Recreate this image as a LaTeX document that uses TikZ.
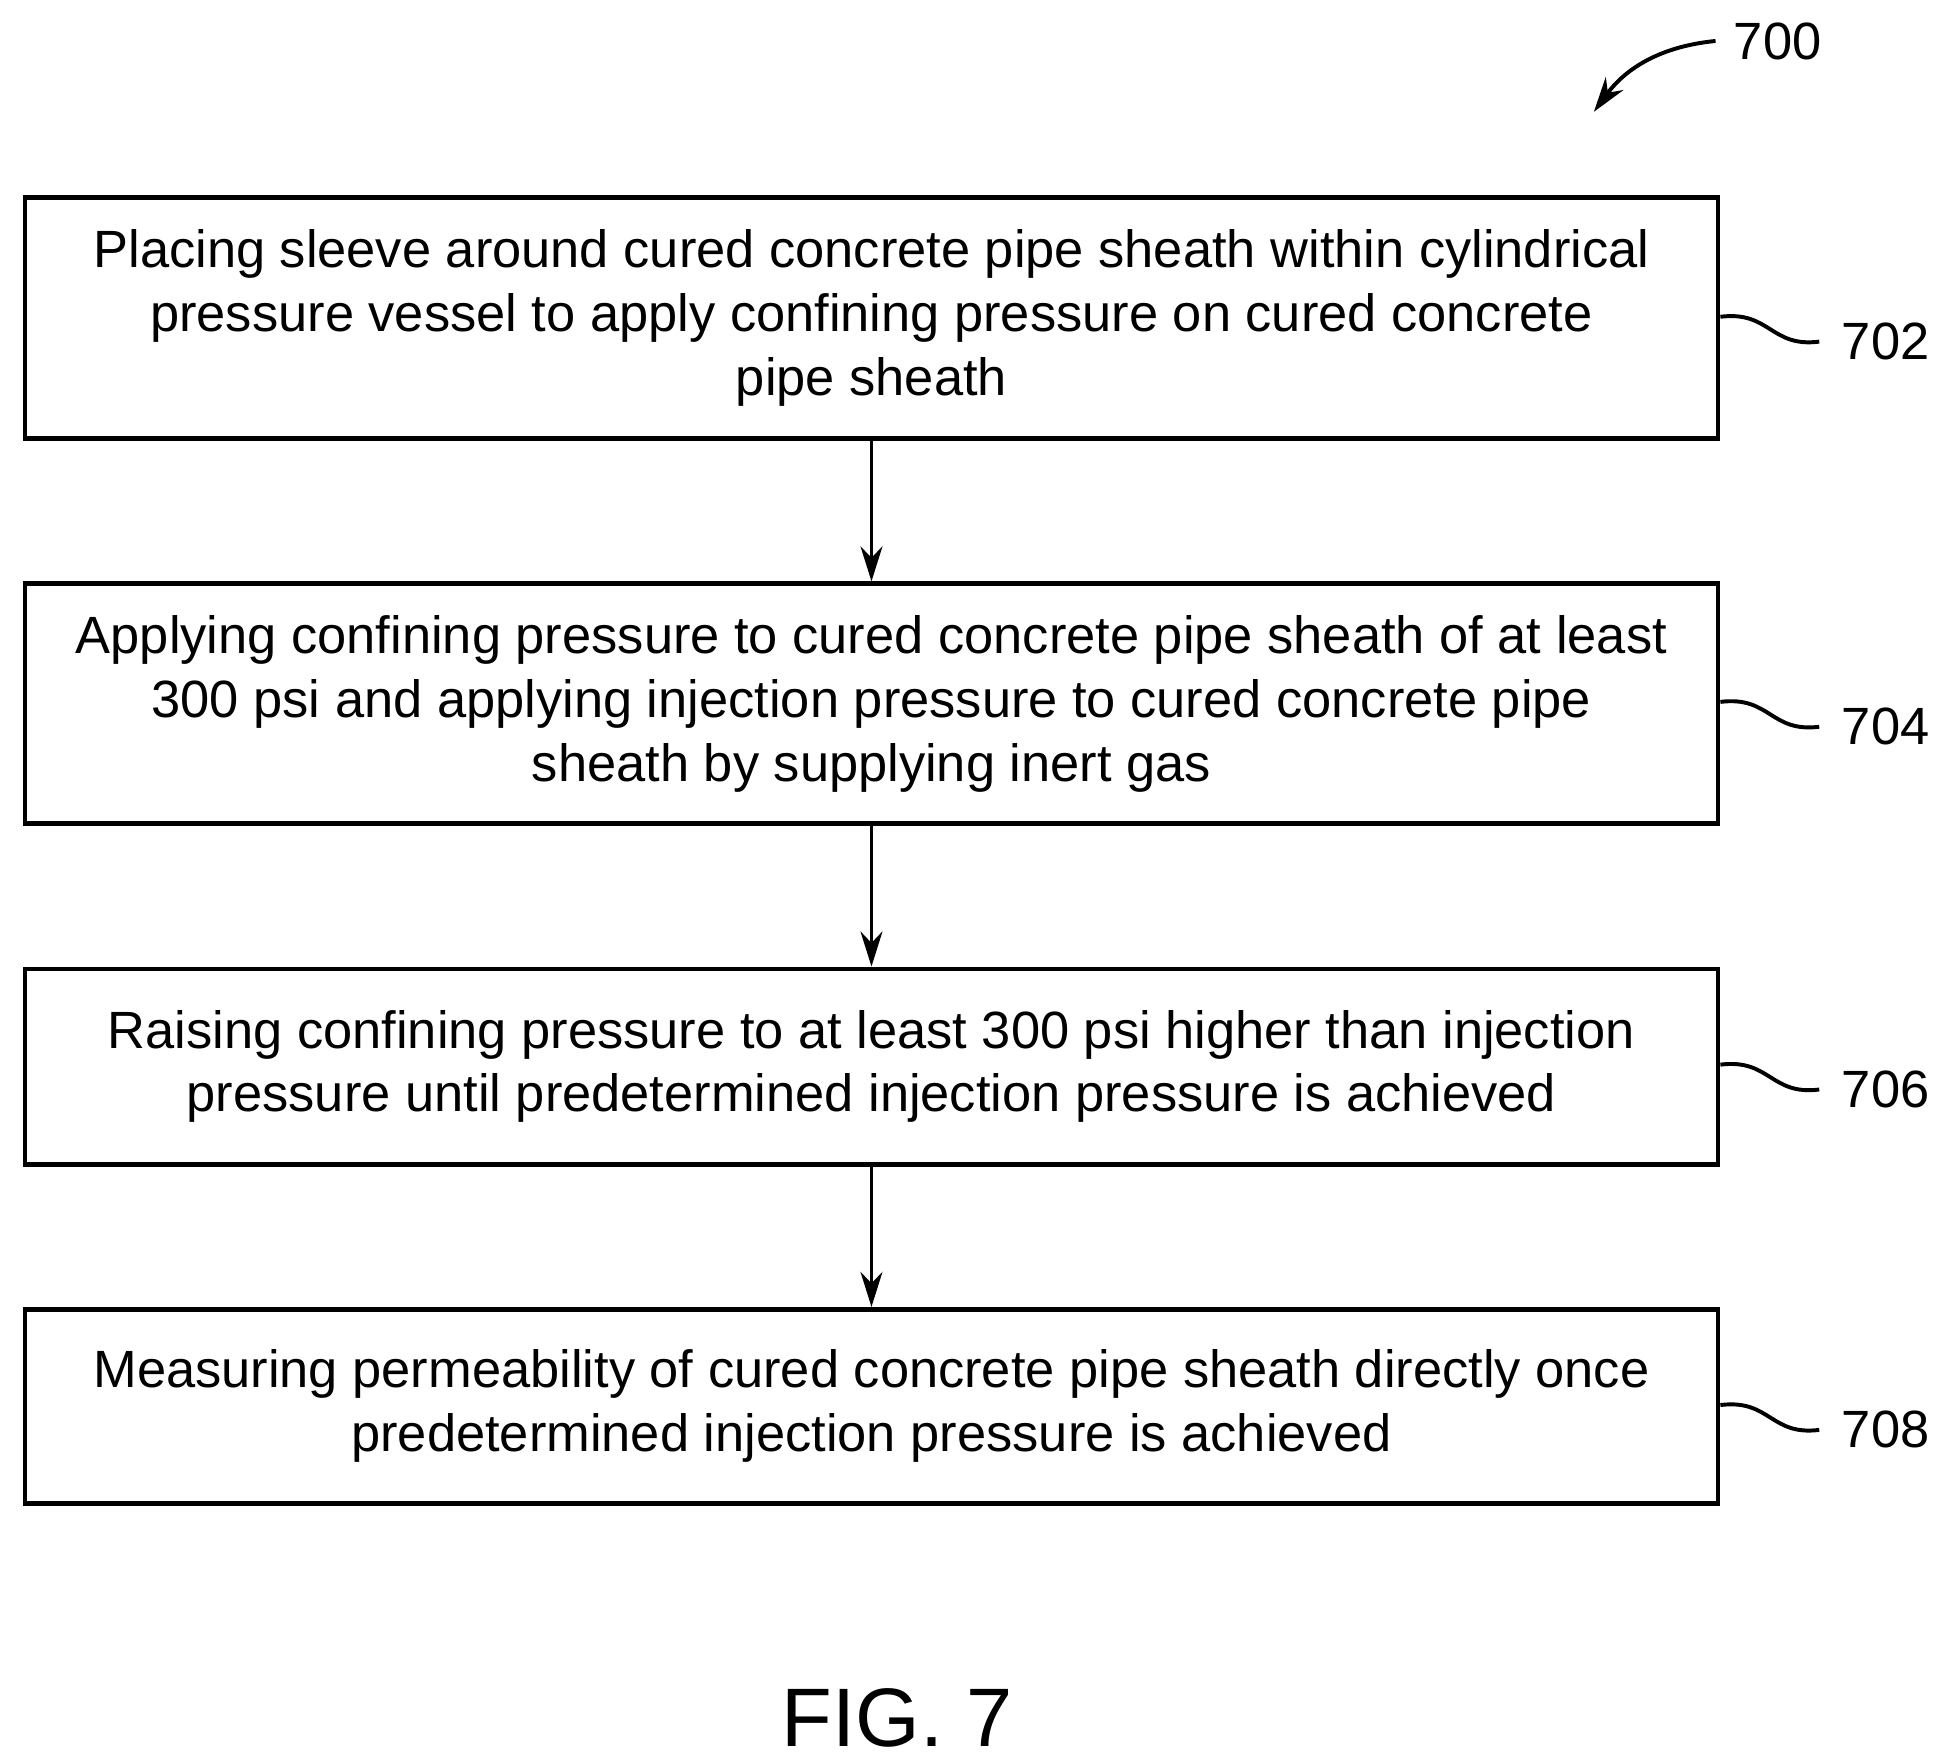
\documentclass[tikz,border=0pt]{standalone}
\usepackage{fontspec}
\setmainfont{Liberation Sans}
\usetikzlibrary{arrows.meta}
\begin{document}
\begin{tikzpicture}[x=0.01cm,y=-0.01cm,
 box/.style={draw,line width=1.1pt,align=center,font=\fontsize{12}{14.6}\selectfont},
 arr/.style={-{Stealth[length=8pt,width=5pt]},line width=0.9pt},
 lab/.style={font=\fontsize{12}{14.6}\selectfont},
 sq/.style={line width=0.9pt}]
\useasboundingbox (0,0) rectangle (1560,1416);
\tikzset{every node/.append style={inner sep=0pt}}
\node[box,minimum width=13.62cm,minimum height=1.94cm] (b1) at (701.5,256) {Placing sleeve around cured concrete pipe sheath within cylindrical\\pressure vessel to apply confining pressure on cured concrete\\pipe sheath};
\node[box,minimum width=13.62cm,minimum height=1.93cm] (b2) at (701.5,566.5) {Applying confining pressure to cured concrete pipe sheath of at least\\300 psi and applying injection pressure to cured concrete pipe\\sheath by supplying inert gas};
\node[box,minimum width=13.62cm,minimum height=1.57cm] (b3) at (701.5,858.5) {Raising confining pressure to at least 300 psi higher than injection\\pressure until predetermined injection pressure is achieved};
\node[box,minimum width=13.62cm,minimum height=1.56cm] (b4) at (701.5,1132) {Measuring permeability of cured concrete pipe sheath directly once\\predetermined injection pressure is achieved};
\draw[arr] (b1.south) -- (b2.north);
\draw[arr] (b2.south) -- (b3.north);
\draw[arr] (b3.south) -- (b4.north);
\foreach \b/\t/\y in {b1/702/275,b2/704/585,b3/706/877,b4/708/1151}{
 \node[lab,anchor=west] (l\t) at (1482,\y) {\t};
 \draw[sq] (b1.east |- 0,\y-20) .. controls (1425,\y-25) and (1425,\y+5) .. ([xshift=-5pt]l\t.west);
}
\node[lab,anchor=west] (l700) at (1395,33) {700};
\coordinate (t700) at (1283,90);
\draw[arr] ([xshift=-4pt]l700.west) .. controls (1330,38) and (1305,60) .. (t700);
\node[font=\fontsize{19}{22}\selectfont] (fig) at (722,1383) {FIG. 7};
\end{tikzpicture}
\end{document}
